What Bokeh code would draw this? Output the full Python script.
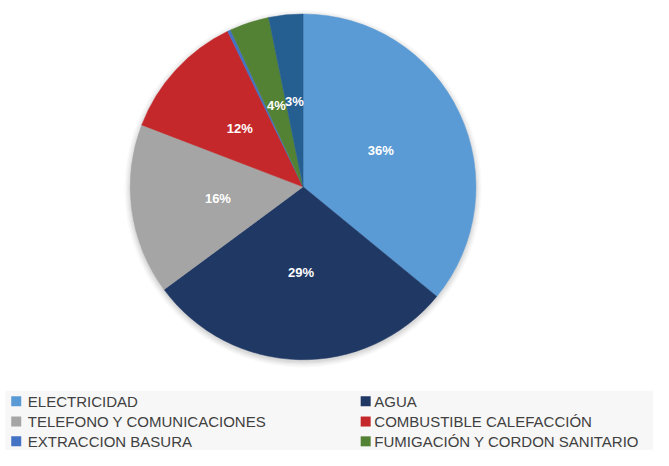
import math
from bokeh.plotting import figure
from bokeh.models import Range1d, ColumnDataSource
from bokeh.core.properties import value
from bokeh.embed import file_html
from bokeh.resources import INLINE

categories = ["ELECTRICIDAD", "AGUA", "TELEFONO Y COMUNICACIONES", "COMBUSTIBLE CALEFACCIÓN",
              "EXTRACCION BASURA", "FUMIGACIÓN Y CORDON SANITARIO", "OTROS"]
values = [36.0, 29.0, 16.0, 12.0, 0.3, 3.7, 3.2]
colors = ["#5B9BD5", "#203864", "#A5A5A5", "#C5282A", "#4472C4", "#548235", "#255E91"]
legend_order = [0, 1, 2, 3, 4, 5]

W, H = 653, 450
SX, SY = W / 669, H / 466
p = figure(width=W, height=H, x_range=Range1d(0, W), y_range=Range1d(0, H),
           output_backend="svg", toolbar_location=None, min_border=0)
p.axis.visible = False
p.grid.visible = False
p.outline_line_color = None
p.background_fill_color = "white"
p.border_fill_color = "white"

def fx(px):
    return px * SX

def fy(py):
    return H - py * SY

cx, cy, R = fx(310), fy(193), 179 * SY

# soft shadow
for i, a in enumerate([0.02, 0.025, 0.03, 0.035, 0.045]):
    p.circle(x=[cx], y=[cy - 2], radius=R + 6 - i * 1.3, fill_color="#000000",
             fill_alpha=a, line_color=None)

total = sum(values)
starts, ends, mids = [], [], []
cum = 0.0
for v in values:
    a0 = cum / total * 2 * math.pi
    cum += v
    a1 = cum / total * 2 * math.pi
    starts.append(math.pi / 2 - a0)
    ends.append(math.pi / 2 - a1)
    mids.append((a0 + a1) / 2)

src = ColumnDataSource(dict(start=starts, end=ends, color=colors))
p.wedge(x=cx, y=cy, radius=R, start_angle="start", end_angle="end", direction="clock",
        fill_color="color", line_color="color", line_width=0.5, source=src)

lr = 89 * SY
lx, ly, lt = [], [], []
for v, m in zip(values, mids):
    if v / total * 100 < 1:
        continue
    lx.append(cx + lr * math.sin(m))
    ly.append(cy + lr * math.cos(m))
    lt.append("%.0f%%" % (v / total * 100))
p.text(x=lx, y=ly, text=lt, text_color="white", text_font=value("Liberation Sans"),
       text_font_style="bold", text_font_size="13px", text_align="center",
       text_baseline="middle")

# legend background
p.quad(left=fx(5), right=W, bottom=0, top=fy(404), fill_color="#F7F7F7", line_color=None)

sq_x = [fx(11), fx(369)]
txt_x = [fx(28), fx(383)]
row_y = [fy(415), fy(436), fy(456.5)]
sq = 10
for k, idx in enumerate(legend_order):
    r, c = divmod(k, 2)
    x0 = sq_x[c]
    y0 = row_y[r]
    p.quad(left=x0, right=x0 + sq, bottom=y0 - sq / 2, top=y0 + sq / 2,
           fill_color=colors[idx], line_color=None)
    p.text(x=[txt_x[c]], y=[y0], text=[categories[idx]], text_color="#404040",
           text_font=value("Liberation Sans"), text_font_size="15px",
           text_baseline="middle", text_align="left")

open("out.html", "w").write(file_html(p, INLINE))
